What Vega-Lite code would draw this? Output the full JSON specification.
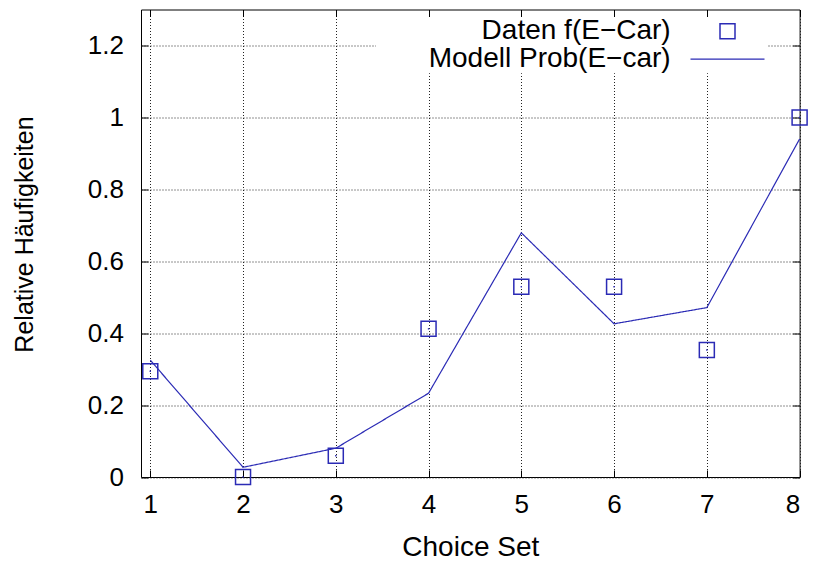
{
  "$schema": "https://vega.github.io/schema/vega-lite/v6.json",
  "width": 658.6,
  "height": 467.5,
  "autosize": {"type": "none"},
  "padding": {"left": 141, "top": 9.5, "right": 17.4, "bottom": 93},
  "background": "white",
  "config": {
    "font": "Liberation Sans",
    "view": {"stroke": "#000", "strokeWidth": 1},
    "axis": {
      "domain": false,
      "tickColor": "#000",
      "tickWidth": 1,
      "tickSize": -7,
      "labelFont": "Liberation Sans",
      "labelFontSize": 26,
      "labelColor": "#000",
      "titleFont": "Liberation Sans",
      "titleFontSize": 28,
      "titleFontWeight": "normal",
      "titleColor": "#000",
      "gridColor": "#222",
      "gridDash": [1, 2],
      "gridWidth": 1,
      "gridOpacity": 1
    }
  },
  "data": {
    "values": [
      {"set": 1, "daten": 0.294, "modell": 0.325},
      {"set": 2, "daten": 0.0, "modell": 0.027},
      {"set": 3, "daten": 0.059, "modell": 0.08},
      {"set": 4, "daten": 0.412, "modell": 0.233},
      {"set": 5, "daten": 0.529, "modell": 0.679},
      {"set": 6, "daten": 0.529, "modell": 0.426},
      {"set": 7, "daten": 0.353, "modell": 0.471},
      {"set": 8, "daten": 1.0, "modell": 0.94}
    ]
  },
  "layer": [
    {
      "mark": {"type": "point", "filled": false, "size": 225, "strokeWidth": 1.5, "opacity": 1, "color": "#2b2bb5"},
      "encoding": {
        "x": {
          "field": "set", "type": "quantitative",
          "scale": {"domain": [0.9, 8], "nice": false, "zero": false},
          "axis": {"orient": "bottom", "values": [1, 2, 3, 4, 5, 6, 7, 8], "format": "d", "title": "Choice Set", "grid": true, "labelPadding": 21, "titleY": 70, "titleBaseline": "middle"}
        },
        "y": {
          "field": "daten", "type": "quantitative",
          "scale": {"domain": [0, 1.3], "nice": false, "zero": false},
          "axis": {"orient": "left", "values": [0, 0.2, 0.4, 0.6, 0.8, 1, 1.2], "format": "~g", "title": "Relative Häufigkeiten", "titleFontSize": 25, "grid": true, "labelPadding": 24.5, "titleX": -117, "titleY": 224.5, "titleBaseline": "middle", "titleAngle": -90}
        },
        "shape": {
          "datum": "Daten f(E\u2212Car)", "type": "nominal",
          "scale": {"domain": ["Daten f(E\u2212Car)"], "range": ["square"]},
          "legend": {
            "orient": "none", "legendX": 235, "legendY": 7.7, "title": null, "zindex": 2,
            "fillColor": "white", "padding": 0, "columns": 1,
            "labelFont": "Liberation Sans", "labelFontSize": 28, "labelColor": "#000",
            "labelAlign": "right", "labelLimit": 500, "labelOffset": -70.8,
            "symbolOffset": 337.5, "symbolSize": 225, "symbolStrokeWidth": 1.5,
            "symbolStrokeColor": "#2b2bb5", "symbolFillColor": "transparent", "symbolOpacity": 1
          }
        }
      }
    },
    {
      "mark": {"type": "line", "strokeWidth": 1.2, "color": "#2b2bb5"},
      "encoding": {
        "x": {
          "field": "set", "type": "quantitative",
          "scale": {"domain": [0.9, 8], "nice": false, "zero": false},
          "axis": {"orient": "top", "values": [1, 2, 3, 4, 5, 6, 7, 8], "labels": false, "title": null, "grid": false}
        },
        "y": {
          "field": "modell", "type": "quantitative",
          "scale": {"domain": [0, 1.3], "nice": false, "zero": false},
          "axis": {"orient": "right", "values": [0, 0.2, 0.4, 0.6, 0.8, 1, 1.2], "labels": false, "title": null, "grid": false}
        },
        "strokeDash": {
          "datum": "Modell Prob(E\u2212car)", "type": "nominal",
          "scale": {"domain": ["Modell Prob(E\u2212car)"], "range": [[1, 0]]},
          "legend": {
            "orient": "none", "legendX": 235, "legendY": 11.7, "title": null, "zindex": 1,
            "fillColor": "white", "padding": 0, "columns": 1,
            "labelFont": "Liberation Sans", "labelFontSize": 28, "labelColor": "#000",
            "labelAlign": "right", "labelLimit": 500, "labelOffset": -94.8,
            "symbolOffset": 313.5, "symbolSize": 5476, "symbolStrokeWidth": 1.2,
            "symbolType": "stroke", "symbolStrokeColor": "#2b2bb5", "symbolOpacity": 1
          }
        }
      }
    },
    {
      "mark": {"type": "point", "shape": "square", "filled": true, "size": 2, "color": "#2b2bb5", "opacity": 1},
      "encoding": {
        "x": {"field": "set", "type": "quantitative", "scale": {"domain": [0.9, 8], "nice": false, "zero": false}, "axis": null},
        "y": {"field": "daten", "type": "quantitative", "scale": {"domain": [0, 1.3], "nice": false, "zero": false}, "axis": null}
      }
    }
  ],
  "resolve": {"axis": {"x": "independent", "y": "independent"}}
}
